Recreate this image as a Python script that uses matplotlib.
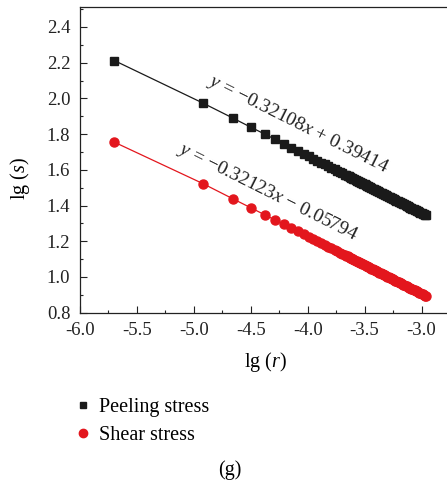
import matplotlib
matplotlib.use('Agg')
import matplotlib.pyplot as plt
from matplotlib.lines import Line2D

plt.rcParams['font.family'] = 'Liberation Serif'
plt.rcParams['mathtext.fontset'] = 'custom'
plt.rcParams['mathtext.rm'] = 'Liberation Serif'
plt.rcParams['mathtext.it'] = 'Liberation Serif:italic'

# lg(r) positions of the computed points
lg_r = [-5.699, -4.921, -4.658, -4.495, -4.377, -4.284, -4.208, -4.143, -4.086, -4.036,
        -3.991, -3.951, -3.914, -3.879, -3.848, -3.818, -3.791, -3.764, -3.740, -3.717,
        -3.695, -3.67, -3.66, -3.65, -3.64, -3.63, -3.62, -3.61, -3.60, -3.59,
        -3.58, -3.57, -3.56, -3.55, -3.54, -3.53, -3.52, -3.51, -3.50, -3.49,
        -3.48, -3.47, -3.46, -3.45, -3.44, -3.43, -3.42, -3.41, -3.40, -3.39,
        -3.38, -3.37, -3.36, -3.35, -3.34, -3.33, -3.32, -3.31, -3.30, -3.29,
        -3.28, -3.27, -3.26, -3.25, -3.24, -3.23, -3.22, -3.21, -3.20, -3.19,
        -3.18, -3.17, -3.16, -3.15, -3.14, -3.13, -3.12, -3.11, -3.10, -3.09,
        -3.08, -3.07, -3.06, -3.05, -3.04, -3.03, -3.02, -3.01, -3.00, -2.99,
        -2.98, -2.97, -2.96]

peel = [2.212, 1.974, 1.890, 1.837, 1.800, 1.770, 1.745, 1.724, 1.706, 1.690,
        1.676, 1.663, 1.651, 1.640, 1.630, 1.620, 1.611, 1.603, 1.595, 1.588,
        1.581, 1.572, 1.569, 1.566, 1.563, 1.559, 1.556, 1.553, 1.550, 1.547,
        1.544, 1.540, 1.537, 1.534, 1.531, 1.527, 1.524, 1.521, 1.518, 1.515,
        1.511, 1.508, 1.505, 1.502, 1.499, 1.495, 1.492, 1.489, 1.486, 1.483,
        1.479, 1.476, 1.473, 1.470, 1.467, 1.463, 1.460, 1.457, 1.454, 1.450,
        1.447, 1.444, 1.441, 1.438, 1.434, 1.431, 1.428, 1.425, 1.422, 1.418,
        1.415, 1.412, 1.409, 1.406, 1.402, 1.399, 1.396, 1.393, 1.389, 1.386,
        1.383, 1.380, 1.377, 1.373, 1.370, 1.367, 1.364, 1.361, 1.357, 1.354,
        1.351, 1.348, 1.345]

shear = [1.755, 1.523, 1.438, 1.386, 1.348, 1.318, 1.294, 1.273, 1.255, 1.239,
         1.224, 1.211, 1.199, 1.188, 1.178, 1.169, 1.160, 1.151, 1.143, 1.136,
         1.129, 1.121, 1.118, 1.115, 1.111, 1.108, 1.105, 1.102, 1.098, 1.095,
         1.092, 1.089, 1.086, 1.082, 1.079, 1.076, 1.073, 1.070, 1.066, 1.063,
         1.060, 1.057, 1.054, 1.050, 1.047, 1.044, 1.041, 1.037, 1.034, 1.031,
         1.028, 1.025, 1.021, 1.018, 1.015, 1.012, 1.009, 1.005, 1.002, 0.999,
         0.996, 0.992, 0.989, 0.986, 0.983, 0.980, 0.976, 0.973, 0.970, 0.967,
         0.964, 0.960, 0.957, 0.954, 0.951, 0.948, 0.944, 0.941, 0.938, 0.935,
         0.931, 0.928, 0.925, 0.922, 0.919, 0.915, 0.912, 0.909, 0.906, 0.903,
         0.899, 0.896, 0.893]

fit_peel = r'$y$ = −0.32108$x$ + 0.39414'
fit_shear = r'$y$ = −0.32123$x$ − 0.05794'

BLACK = '#1a1a1a'
RED = '#e3161d'

fig = plt.figure(figsize=(4.47, 4.83), dpi=100)
ax = fig.add_axes([80/447, 1 - 312.7/483, 370/447, 305.4/483])

ax.plot(lg_r, peel, color=BLACK, lw=0.9)
ax.plot(lg_r, peel, 's', color=BLACK, ms=5.5, ls='None')
ax.plot(lg_r, shear, color=RED, lw=0.9)
ax.plot(lg_r, shear, 'o', color=RED, ms=6.5, ls='None')

ax.set_xlim(-6.0, -2.75)
ax.set_ylim(0.8, 2.51)
ax.set_xticks([-6.0, -5.5, -5.0, -4.5, -4.0, -3.5, -3.0])
ax.set_xticks([-5.75, -5.25, -4.75, -4.25, -3.75, -3.25, -2.75], minor=True)
ax.set_yticks([0.8, 1.0, 1.2, 1.4, 1.6, 1.8, 2.0, 2.2, 2.4])
ax.set_yticks([0.9, 1.1, 1.3, 1.5, 1.7, 1.9, 2.1, 2.3, 2.5], minor=True)
ax.xaxis.set_major_formatter(plt.FormatStrFormatter('%.1f'))
ax.yaxis.set_major_formatter(plt.FormatStrFormatter('%.1f'))
ax.tick_params(which='both', direction='in', labelsize=13.5, colors='#222222', pad=7)
ax.tick_params(which='major', length=5, width=0.8)
ax.tick_params(which='minor', length=2.5, width=0.8)
for s in ax.spines.values():
    s.set_linewidth(0.9)
    s.set_color('#222222')

ax.set_xlabel(r'lg ($r$)', fontsize=14.5)
ax.set_ylabel(r'lg ($s$)', fontsize=14.5)
ax.xaxis.set_label_coords(0.5, -0.122)
ax.yaxis.set_label_coords(-0.13, 0.44)

ax.text(-4.086, 1.853, fit_peel, rotation=-26.5, rotation_mode='anchor',
        ha='center', va='center', fontsize=14, color='#222222')
ax.text(-4.354, 1.477, fit_shear, rotation=-26.5, rotation_mode='anchor',
        ha='center', va='center', fontsize=14, color='#222222')

handles = [Line2D([], [], marker='s', color=BLACK, ls='None', ms=5),
           Line2D([], [], marker='o', color=RED, ls='None', ms=6)]
fig.legend(handles, ['Peeling stress', 'Shear stress'], loc='upper left',
           bbox_to_anchor=(63/447, 1 - 388/483), frameon=False, fontsize=14.5,
           handlelength=1.0, handletextpad=0.3, labelspacing=0.45, borderpad=0)

fig.text(230/447, 1 - 470/483, '(g)', ha='center', va='center', fontsize=14.5)

fig.savefig('out.png', dpi=100)
